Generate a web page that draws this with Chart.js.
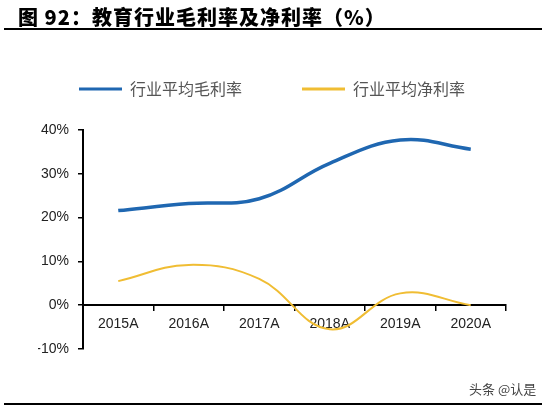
<!DOCTYPE html>
<html><head><meta charset="utf-8">
<script src="https://cdn.jsdelivr.net/npm/chart.js@4.4.1/dist/chart.umd.min.js"></script>
<style>
html,body{margin:0;padding:0;background:#fff;}
#wrap{position:relative;width:558px;height:410px;overflow:hidden;background:#fff;}
#title{position:absolute;left:18px;top:2px;font-family:"Noto Sans CJK SC",sans-serif;font-weight:900;font-size:20px;color:#000;letter-spacing:1px;white-space:nowrap;}
#topline{position:absolute;left:4px;top:28px;width:538px;height:2px;background:#000;}
#botline{position:absolute;left:4px;top:403px;width:538px;height:2px;background:#000;}
#wm{position:absolute;left:469px;top:379px;font-family:"Noto Sans CJK SC",sans-serif;font-size:13px;color:#444;white-space:nowrap;}
canvas{position:absolute;left:0;top:0;}
</style></head>
<body><div id="wrap">
<canvas id="c" width="558" height="410"></canvas>
<div id="title">图 92：教育行业毛利率及净利率（%）</div>
<div id="topline"></div>
<div id="botline"></div>
<div id="wm">头条 @认是</div>
</div>
<script>
const categories = ["2015A","2016A","2017A","2018A","2019A","2020A"];
const grossMargin = [21.6, 23.2, 24.3, 32.4, 37.7, 35.6];
const netMargin = [5.5, 9.2, 6.0, -5.5, 2.7, 0.0];
const seriesNames = ["行业平均毛利率","行业平均净利率"];
const yTicks = [-10, 0, 10, 20, 30, 40];

const legendSpace = {
  id:'legendSpace',
  beforeInit(chart){
    const fit = chart.legend.fit;
    chart.legend.fit = function(){ fit.bind(chart.legend)(); this.height = 61; };
  }
};

new Chart(document.getElementById('c'), {
  type:'line',
  data:{
    labels:categories,
    datasets:[
      {label:seriesNames[0], data:grossMargin, borderColor:'#1f67b1', backgroundColor:'#1f67b1', borderWidth:3.5, tension:0.4, pointRadius:0, fill:false},
      {label:seriesNames[1], data:netMargin, borderColor:'#f0bd33', backgroundColor:'#f0bd33', borderWidth:2, tension:0.4, pointRadius:0, fill:false}
    ]
  },
  options:{
    responsive:false, animation:false, devicePixelRatio:1,
    layout:{padding:{top:69,left:38,right:52,bottom:61}},
    plugins:{
      tooltip:{enabled:false},
      legend:{
        display:true, position:'top',
        labels:{
          font:{family:'"Noto Sans CJK SC", sans-serif', size:16},
          color:'#555',
          boxWidth:43, boxHeight:3, padding:12,
          generateLabels(chart){
            return chart.data.datasets.map((d,i)=>({text:d.label + (i===0 ? '\u3000\u3000\u3000' : ''), fillStyle:d.borderColor, strokeStyle:d.borderColor, lineWidth:0, datasetIndex:i, fontColor:'#555'}));
          }
        }
      }
    },
    scales:{
      x:{
        type:'category', position:{y:0}, offset:true,
        grid:{display:true, drawOnChartArea:false, offset:true, tickLength:5, color:'#000', lineWidth:1.5},
        border:{display:true, color:'#000', width:2},
        ticks:{font:{family:'"Liberation Sans", Arial, sans-serif', size:14}, color:'#222', padding:6}
      },
      y:{
        min:-10, max:40,
        afterBuildTicks(s){ s.ticks = yTicks.map(v=>({value:v})); },
        afterFit(s){ s.width = 45; },
        grid:{display:true, drawOnChartArea:false, tickLength:5, color:'#000', lineWidth:1.5},
        border:{display:true, color:'#000', width:2},
        ticks:{font:{family:'"Liberation Sans", Arial, sans-serif', size:14}, color:'#222', padding:9, callback:v=>v+'%'}
      }
    }
  },
  plugins:[legendSpace]
});
</script>
</body></html>
